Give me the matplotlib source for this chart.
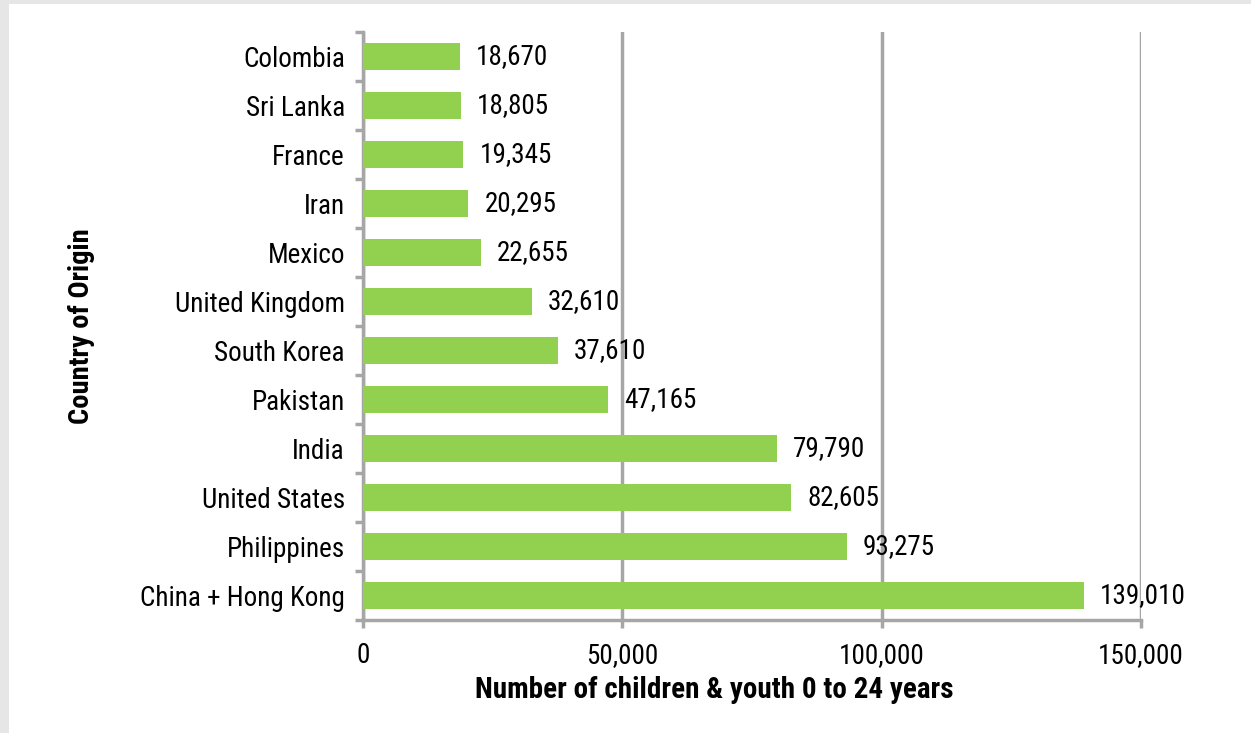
import matplotlib
matplotlib.use("Agg")
import matplotlib.pyplot as plt
from matplotlib import font_manager as fm
from matplotlib.patches import Rectangle

countries = ["China + Hong Kong", "Philippines", "United States", "India", "Pakistan",
             "South Korea", "United Kingdom", "Mexico", "Iran", "France", "Sri Lanka", "Colombia"]
values = [139010, 93275, 82605, 79790, 47165, 37610, 32610, 22655, 20295, 19345, 18805, 18670]
xticks = [0, 50000, 100000, 150000]
xlabel = "Number of children & youth 0 to 24 years"
ylabel = "Country of Origin"

names = {f.name for f in fm.fontManager.ttflist}
fam = [f for f in ["Liberation Sans Narrow", "Roboto Condensed", "Liberation Sans"] if f in names] + ["DejaVu Sans"]
plt.rcParams['font.family'] = fam

fig = plt.figure(figsize=(12.51, 7.33), dpi=100)
fig.patch.set_facecolor("#e6e6e6")
fig.patches.append(Rectangle((9/1251, 0), 1 - 9/1251, 1 - 4/733, transform=fig.transFigure,
                             facecolor="white", edgecolor="none", zorder=-10))

ax = fig.add_axes([363/1251, 1 - 620/733, (1141 - 363)/1251, (620 - 32)/733])
ax.set_facecolor("none")
grey = "#a6a6a6"
fs = 19.5
y = list(range(len(countries)))
ax.barh(y, values, height=0.55, color="#92d050", zorder=3)
for yi, v in zip(y, values):
    ax.text(v + 3100, yi, f"{v:,}", va="center", ha="left", fontsize=fs, color="black", zorder=4)

ax.set_xlim(0, 150000)
ax.set_ylim(-0.5, len(countries) - 0.5)
ax.set_xticks(xticks)
ax.set_xticklabels([f"{t:,}" for t in xticks], fontsize=fs)
ax.set_yticks(y)
ax.set_yticklabels(countries, fontsize=fs)
ax.set_yticks([i - 0.5 for i in range(len(countries) + 1)], minor=True)
ax.tick_params(axis="y", which="major", length=0, pad=13)
ax.tick_params(axis="y", which="minor", length=6, width=2.5, color=grey)
ax.tick_params(axis="x", which="major", length=6, width=2.5, color=grey, pad=10)
ax.xaxis.grid(True, color=grey, linewidth=2.5, zorder=1)
ax.set_axisbelow(True)
for s in ["top", "right"]:
    ax.spines[s].set_visible(False)
for s in ["left", "bottom"]:
    ax.spines[s].set_color(grey)
    ax.spines[s].set_linewidth(2.5)
ax.set_xlabel(xlabel, fontsize=21, fontweight="bold", va="center")
ax.xaxis.set_label_coords((714 - 363) / 778, (620 - 690) / 588)
ax.set_ylabel(ylabel, fontsize=20.5, fontweight="bold", va="center")
ax.yaxis.set_label_coords((82 - 363) / 778, 0.5)

fig.savefig("out.png", dpi=100, facecolor=fig.get_facecolor())
